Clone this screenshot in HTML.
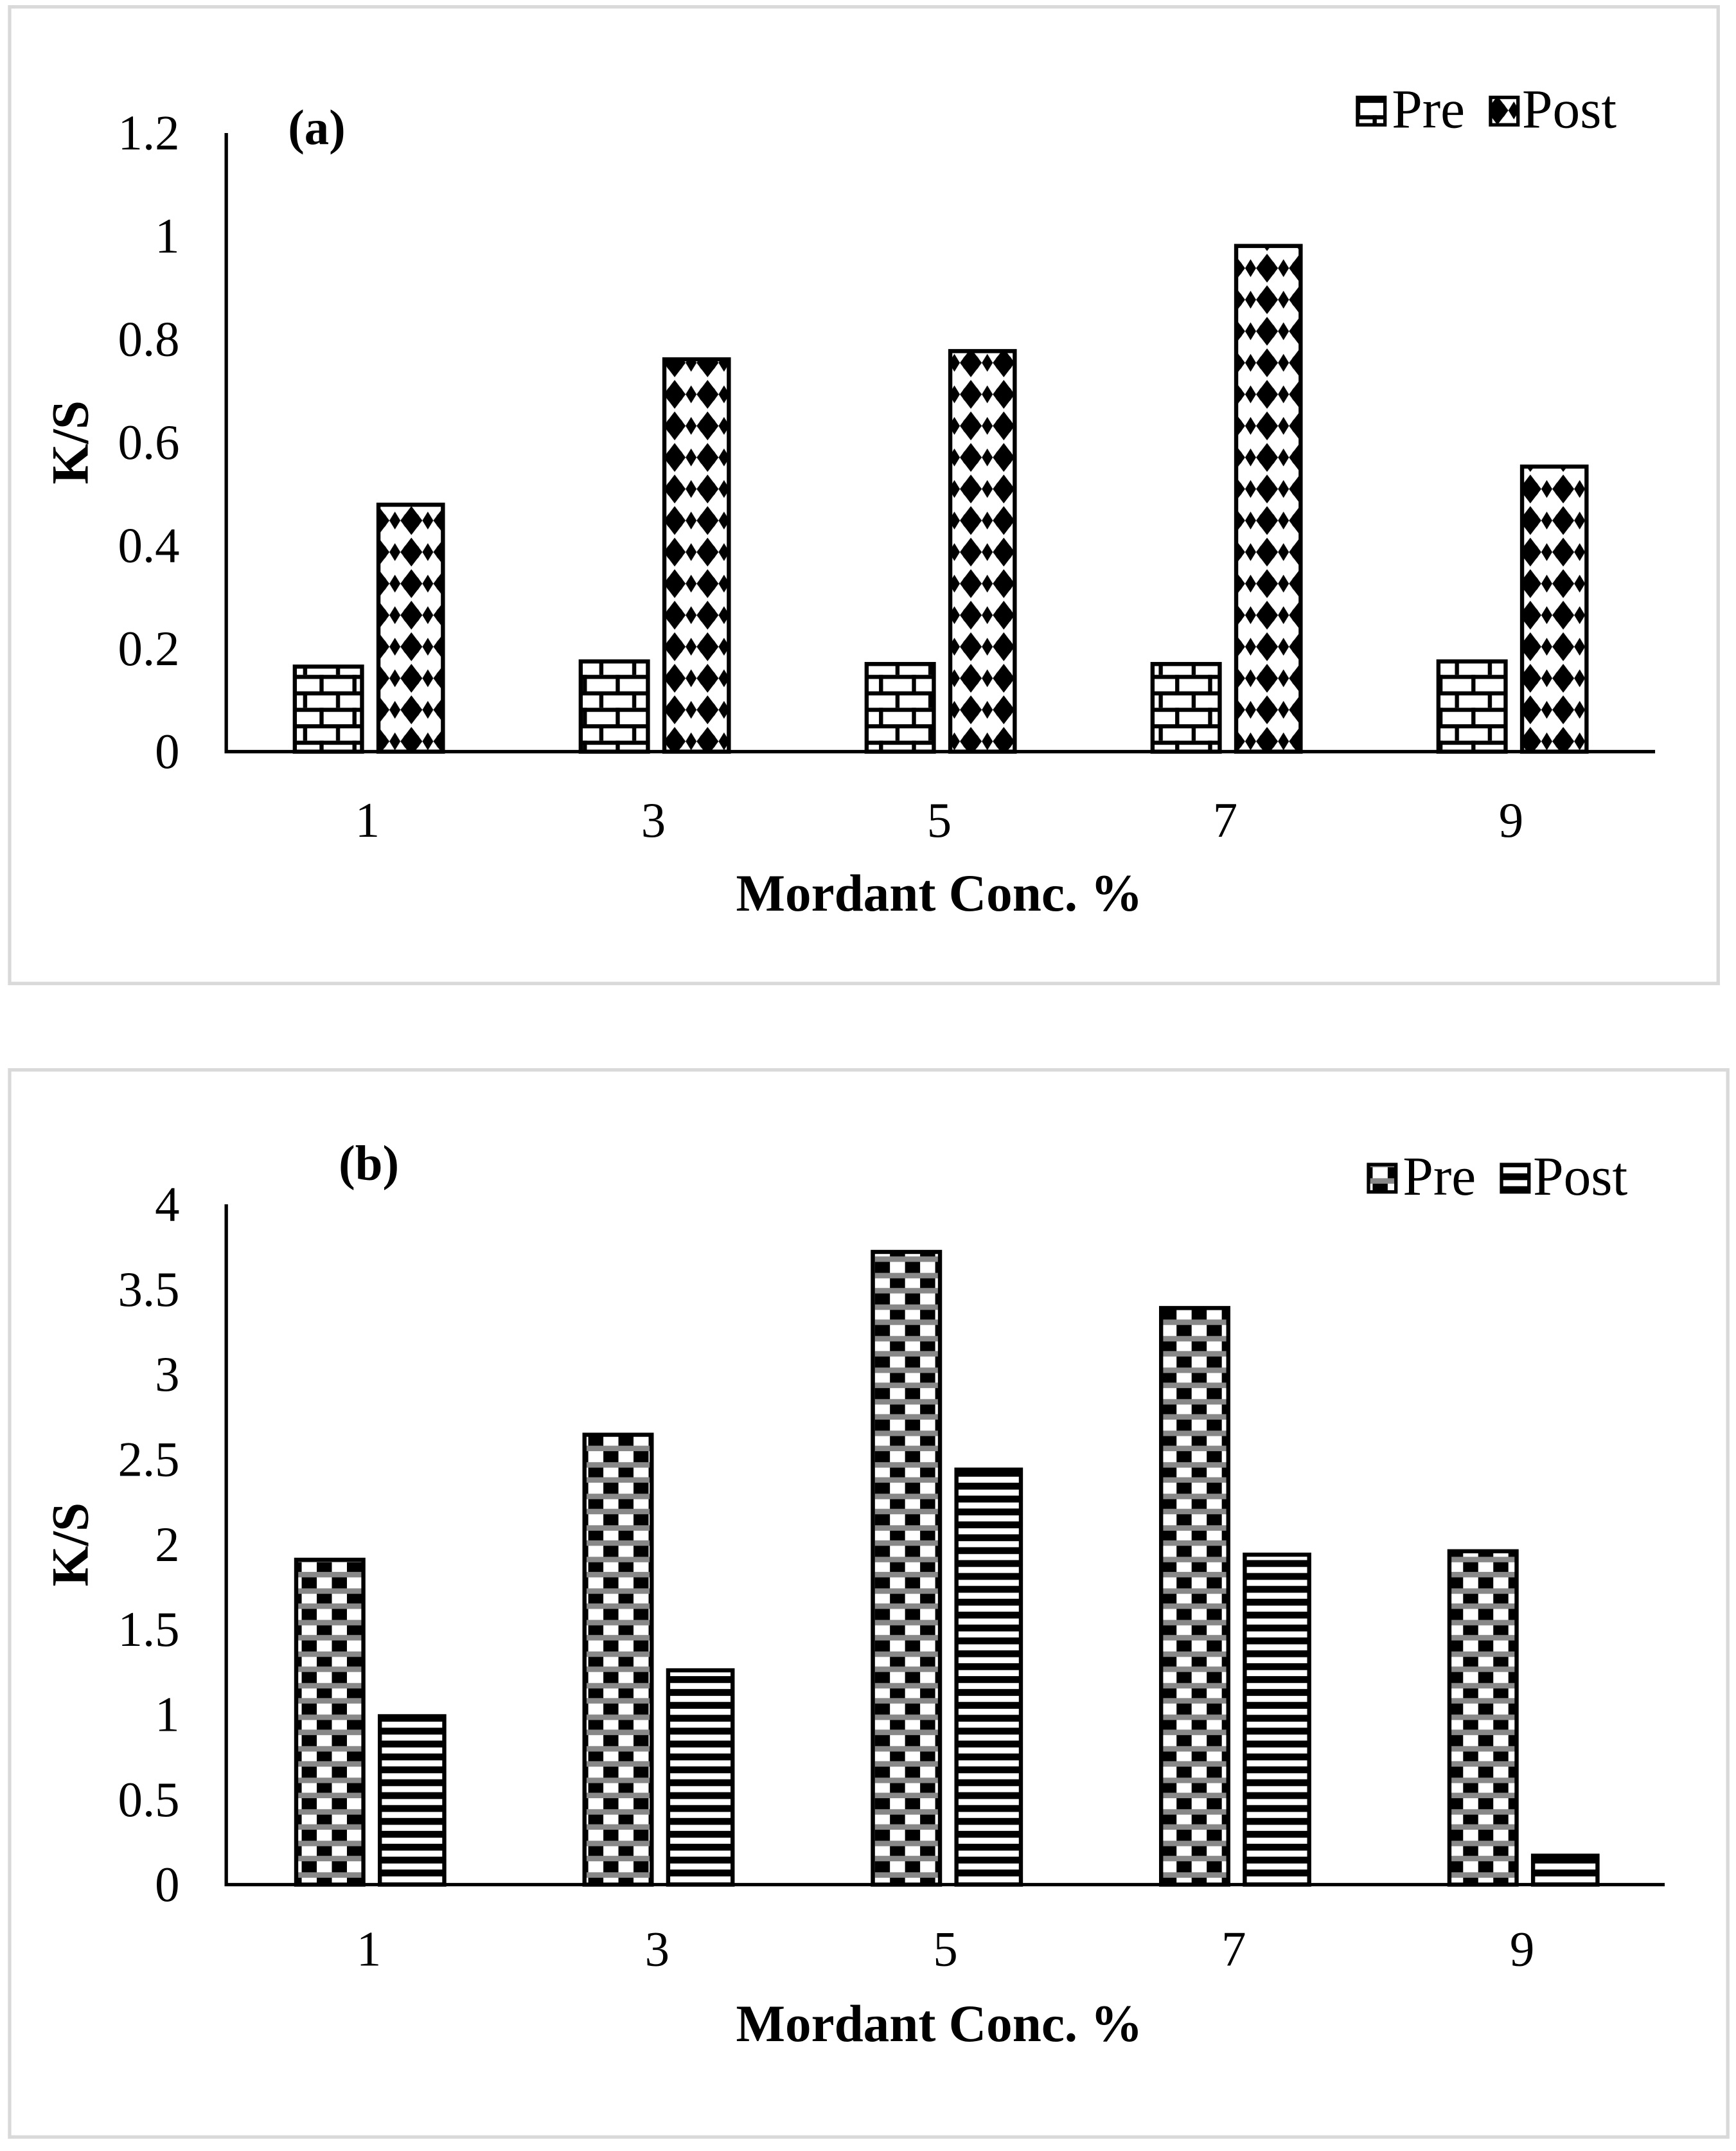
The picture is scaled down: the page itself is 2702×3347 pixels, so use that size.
<!DOCTYPE html>
<html><head><meta charset="utf-8"><style>
html,body{margin:0;padding:0;background:#fff}
svg{display:block}
text{font-family:"Liberation Serif",serif;fill:#000}
</style></head><body>
<svg id="svg" width="2702" height="3347" viewBox="0 0 1266 1568.2" xmlns="http://www.w3.org/2000/svg">
<defs>
<pattern id="brick" patternUnits="userSpaceOnUse" width="24" height="24">
<rect width="24" height="24" fill="#fff"/>
<rect y="0" width="24" height="3" fill="#000"/><rect y="12" width="24" height="3" fill="#000"/>
<rect x="5" y="0" width="3" height="12" fill="#000"/><rect x="17" y="12" width="3" height="12" fill="#000"/>
</pattern>
<pattern id="diamond" patternUnits="userSpaceOnUse" width="24" height="23">
<rect width="24" height="23" fill="#fff"/>
<path d="M12 1 L20 11.5 L12 22 L4 11.5Z" fill="#000"/>
<circle cx="12" cy="11.5" r="6.5" fill="#000"/>
<path d="M0 5 L4 11.5 L0 18Z" fill="#000"/><path d="M24 5 L20 11.5 L24 18Z" fill="#000"/>
</pattern>
<pattern id="checker" patternUnits="userSpaceOnUse" width="22" height="23">
<rect width="22" height="23" fill="#fff"/>
<rect x="0" y="0" width="11" height="11.5" fill="#000"/>
<rect x="11" y="11.5" width="11" height="11.5" fill="#000"/>
<rect x="0" y="8" width="22" height="4" fill="#888"/>
<rect x="0" y="19" width="22" height="4" fill="#888"/>
</pattern>
<pattern id="stripe" patternUnits="userSpaceOnUse" width="10" height="9.4">
<rect width="10" height="9.4" fill="#fff"/><rect y="0" width="10" height="5" fill="#000"/>
</pattern>
</defs>
<rect x="7" y="5" width="1246" height="712" fill="#fff" stroke="#d9d9d9" stroke-width="2.5"/>
<rect x="7" y="780" width="1253" height="778" fill="#fff" stroke="#d9d9d9" stroke-width="2.5"/>
<g id="ga"></g><g id="gb"></g>
</svg>
<script>
const categories = ["1","3","5","7","9"];
const preA = [0.165,0.175,0.17,0.17,0.175];
const postA = [0.479,0.761,0.777,0.981,0.553];
const ticksA = ["0","0.2","0.4","0.6","0.8","1","1.2"];
const preB = [1.91,2.645,3.72,3.39,1.96];
const postB = [0.99,1.26,2.44,1.94,0.17];
const ticksB = ["0","0.5","1","1.5","2","2.5","3","3.5","4"];
const NS="http://www.w3.org/2000/svg";
function mk(p,tag,at,txt){const e=document.createElementNS(NS,tag);for(const k in at)e.setAttribute(k,at[k]);if(txt!=null)e.textContent=txt;p.appendChild(e);return e;}
function panel(g,o){
  const ymax=parseFloat(o.ticks[o.ticks.length-1]);
  const y=v=>o.y0-(v/ymax)*(o.y0-o.y1);
  const x=i=>o.c0+i*o.step;
  o.ticks.forEach(t=>{const e=mk(g,'text',{x:131,y:y(parseFloat(t))+12,'text-anchor':'end','font-size':36},t);
    
    });
  categories.forEach((c,i)=>{
    const r1=mk(g,'rect',{x:x(i)-53,y:y(o.pre[i]),width:49,height:o.y0-y(o.pre[i]),fill:'url(#'+o.p1+')',stroke:'#000','stroke-width':3});
    
    
    const r2=mk(g,'rect',{x:x(i)+8,y:y(o.post[i]),width:47,height:o.y0-y(o.post[i]),fill:'url(#'+o.p2+')',stroke:'#000','stroke-width':3});
    
    
    const t=mk(g,'text',{x:x(i),y:o.xl,'text-anchor':'middle','font-size':36},c);
    
    
  });
  const ax=mk(g,'path',{d:`M165 ${o.y1} L165 ${o.y0} L${o.xend} ${o.y0}`,fill:'none',stroke:'#000','stroke-width':2.5});
  
  
  const xt=mk(g,'text',{x:685,y:o.xt,'text-anchor':'middle','font-size':38,'font-weight':'bold'},'Mordant Conc. %');
  
  
  const cy=(o.y0+o.y1)/2;
  const yt=mk(g,'text',{x:0,y:0,transform:`translate(64 ${cy}) rotate(-90)`,'text-anchor':'middle','font-size':38,'font-weight':'bold'},'K/S');
  
  
  const lb=mk(g,'text',{x:o.lx,y:o.ly,'font-size':36,'font-weight':'bold'},o.label);
  
  
  const lg=mk(g,'g',{});
  
  
  mk(lg,'rect',{x:o.gx,y:o.gy-22,width:20,height:20,fill:'url(#'+o.p1+')',stroke:'#000','stroke-width':2.5});
  mk(lg,'text',{x:o.gx+25,y:o.gy,'font-size':40},'Pre');
  mk(lg,'rect',{x:o.gx+97,y:o.gy-22,width:20,height:20,fill:'url(#'+o.p2+')',stroke:'#000','stroke-width':2.5});
  mk(lg,'text',{x:o.gx+120,y:o.gy,'font-size':40},'Post');
}
panel(document.getElementById('ga'),{ticks:ticksA,pre:preA,post:postA,y0:548,y1:97,c0:268,step:208.5,xend:1207,xl:610,xt:664,label:'(a)',lx:210,ly:105,gx:990,gy:93,p1:'brick',p2:'diamond'});
panel(document.getElementById('gb'),{ticks:ticksB,pre:preB,post:postB,y0:1374,y1:878,c0:269,step:210.25,xend:1214,xl:1433,xt:1488,label:'(b)',lx:247,ly:860,gx:998,gy:871,p1:'checker',p2:'stripe'});
</script>
</body></html>
